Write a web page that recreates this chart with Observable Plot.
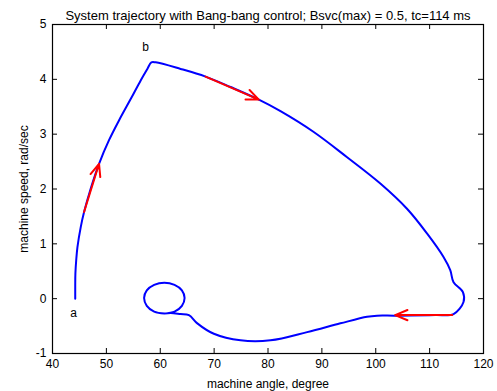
<!DOCTYPE html>
<html>
<head>
<meta charset="utf-8">
<script src="https://cdn.jsdelivr.net/npm/d3@7"></script>
<script src="https://cdn.jsdelivr.net/npm/@observablehq/plot@0.6"></script>
<style>
  html, body { margin: 0; padding: 0; background: #fff; }
  svg { font-family: "Liberation Sans", Arial, sans-serif; }
</style>
</head>
<body>
<div id="chart"></div>
<script>
const titleText = "System trajectory with Bang-bang control; Bsvc(max) = 0.5, tc=114 ms";
const xLabel = "machine angle, degree";
const yLabel = "machine speed, rad/sec";
const xTicks = [40, 50, 60, 70, 80, 90, 100, 110, 120];
const yTicks = [-1, 0, 1, 2, 3, 4, 5];

// trajectory: machine angle (deg) and machine speed (rad/s)
const angle = [44.22, 44.22, 44.25, 44.40, 44.63, 45.25, 45.86, 47.10, 48.64, 50.49, 52.34, 54.51, 56.37, 57.61, 58.35, 59.15,
  63.78, 68.41, 73.05, 78.30, 82.32, 88.49, 94.68, 100.85, 105.80, 109.51, 112.58, 113.83, 114.44, 116.18, 116.29, 114.44,
  111.05, 103.63, 100.24, 98.39, 93.44, 87.27, 80.46, 74.90, 69.95, 66.88, 65.32, 63.78, 61.93,
  60.76, 58.87, 57.50, 57.00, 57.50, 58.87, 60.76, 62.65, 64.02, 64.52, 64.02, 62.65, 60.76];
const speed = [0.00, 0.24, 0.46, 0.70, 0.94, 1.31, 1.58, 2.01, 2.46, 2.89, 3.25, 3.64, 3.98, 4.19, 4.31, 4.31,
  4.19, 4.05, 3.86, 3.63, 3.42, 3.04, 2.58, 2.10, 1.64, 1.19, 0.76, 0.52, 0.30, 0.12, -0.06, -0.28,
  -0.30, -0.31, -0.31, -0.33, -0.45, -0.61, -0.76, -0.76, -0.64, -0.45, -0.30, -0.28, -0.26,
  -0.27, -0.235, -0.13, 0.01, 0.15, 0.25, 0.29, 0.25, 0.15, 0.01, -0.13, -0.235, -0.27];

// direction arrows
const arrowX1 = [45.86, 68.41, 114.2];
const arrowY1 = [1.58, 4.05, -0.30];
const arrowX2 = [48.64, 78.30, 103.6];
const arrowY2 = [2.46, 3.63, -0.30];

// point labels
const ptText = ["a", "b"];
const ptX = [43.9, 57.3];
const ptY = [-0.27, 4.58];

const traj = angle.map((a, i) => ({x: a, y: speed[i]}));
const arrows = arrowX1.map((v, i) => ({x1: v, y1: arrowY1[i], x2: arrowX2[i], y2: arrowY2[i]}));
const pts = ptText.map((t, i) => ({t, x: ptX[i], y: ptY[i]}));

const W = 497, H = 391, mT = 24, mR = 14, mB = 38, mL = 52;
const fw = W - mL - mR, fh = H - mT - mB, tl = 5;

const chart = Plot.plot({
  width: W, height: H,
  marginTop: mT, marginRight: mR, marginBottom: mB, marginLeft: mL,
  style: {fontFamily: "'Liberation Sans', Arial, sans-serif", background: "#fff", color: "#000"},
  x: {domain: [40, 120]},
  y: {domain: [-1, 5]},
  marks: [
    Plot.axisX(xTicks, {tickSize: 0, tickPadding: 6, fontSize: 12, tickFormat: d => String(d), label: xLabel, labelAnchor: "center", labelArrow: "none", labelOffset: 34}),
    Plot.axisY(yTicks, {tickSize: 0, tickPadding: 6, fontSize: 12, tickFormat: d => String(d), label: yLabel, labelAnchor: "center", labelArrow: "none", labelOffset: 33}),
    Plot.tickX(xTicks, {x: d => d, insetTop: fh - tl, stroke: "black"}),
    Plot.tickX(xTicks, {x: d => d, insetBottom: fh - tl, stroke: "black"}),
    Plot.tickY(yTicks, {y: d => d, insetRight: fw - tl, stroke: "black"}),
    Plot.tickY(yTicks, {y: d => d, insetLeft: fw - tl, stroke: "black"}),
    Plot.frame({stroke: "black", strokeWidth: 1.2}),
    Plot.line(traj, {x: "x", y: "y", stroke: "#0000ff", strokeWidth: 2, curve: "catmull-rom"}),
    Plot.arrow(arrows, {x1: "x1", y1: "y1", x2: "x2", y2: "y2", stroke: "#ff0000", strokeWidth: 2, headLength: 10, headAngle: 45}),
    Plot.text(pts, {x: "x", y: "y", text: "t", fontSize: 12}),
    Plot.text([titleText], {frameAnchor: "top", dy: -14, fontSize: 13, text: d => d})
  ]
});
document.getElementById("chart").appendChild(chart);
</script>
</body>
</html>
